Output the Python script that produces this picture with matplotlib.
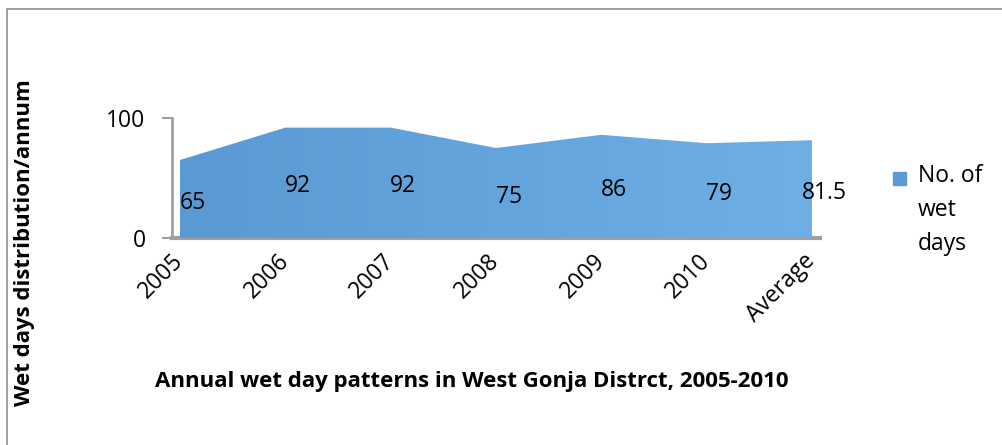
import numpy as np
import matplotlib.pyplot as plt
from matplotlib.colors import LinearSegmentedColormap

plt.rcParams['font.family'] = ['Open Sans', 'DejaVu Sans']

years = ['2005', '2006', '2007', '2008', '2009', '2010', 'Average']
wet_days = [65, 92, 92, 75, 86, 79, 81.5]
value_labels = ['65', '92', '92', '75', '86', '79', '81.5']

x = np.arange(len(years))

fig = plt.figure(figsize=(10.03, 4.45), dpi=100)
ax = fig.add_axes([0.1715, 0.4652, 0.646, 0.2696])

# area with a soft left-to-right gradient like the Excel fill
area = ax.fill_between(x, 0, wet_days, color='#5f9fd8', lw=0, zorder=2)
cmap = LinearSegmentedColormap.from_list('g', ['#5a9ad4', '#6eafe6'])
grad = ax.imshow(np.linspace(0, 1, 256).reshape(1, -1), cmap=cmap, aspect='auto',
                 extent=[x[0], x[-1], 0, 100], zorder=3)
grad.set_clip_path(area.get_paths()[0], transform=ax.transData)
area.set_visible(False)

for xi, v, lab in zip(x, wet_days, value_labels):
    ax.text(xi + 0.12, v / 2 - 3, lab, ha='center', va='center', fontsize=16.5,
            color='black', zorder=5)

ax.set_xlim(-0.076, 6.076)
ax.set_ylim(0, 100)
ax.set_yticks([0, 100])
ax.set_yticklabels(['0', '100'], fontsize=16.5)
ax.set_xticks(x)
ax.set_xticklabels(years, rotation=45, ha='right', va='center', rotation_mode='anchor',
                   fontsize=16.5)
ax.tick_params(axis='x', length=0, pad=14)
ax.tick_params(axis='y', length=7, width=1.5, color='#a0a0a0', pad=12)

for s in ['top', 'right']:
    ax.spines[s].set_visible(False)
ax.spines['left'].set_color('#a0a0a0')
ax.spines['left'].set_linewidth(2)
ax.spines['bottom'].set_color('#a0a0a0')
ax.spines['bottom'].set_linewidth(3)

# legend
fig.patches.append(plt.Rectangle((893 / 1003, 1 - 185 / 445), 13 / 1003, 13 / 445,
                                 transform=fig.transFigure, color='#5b9bd5'))
fig.text(918 / 1003, 1 - 164 / 445, 'No. of\nwet\ndays', fontsize=16.5, va='top',
         ha='left', linespacing=1.55)

fig.text(25 / 1003, 1 - 243 / 445, 'Wet days distribution/annum', rotation=90,
         fontsize=16, fontweight='bold', ha='center', va='center')
fig.text(472 / 1003, 1 - 381 / 445, 'Annual wet day patterns in West Gonja Distrct, 2005-2010',
         fontsize=16, fontweight='bold', ha='center', va='center')

# outer chart border (top and left edges visible)
fig.lines.append(plt.Line2D([7 / 1003, 7 / 1003, 1], [0, 1 - 9 / 445, 1 - 9 / 445],
                            transform=fig.transFigure, color='#8c8c8c', lw=1.2))

fig.savefig('out.png', dpi=100)
